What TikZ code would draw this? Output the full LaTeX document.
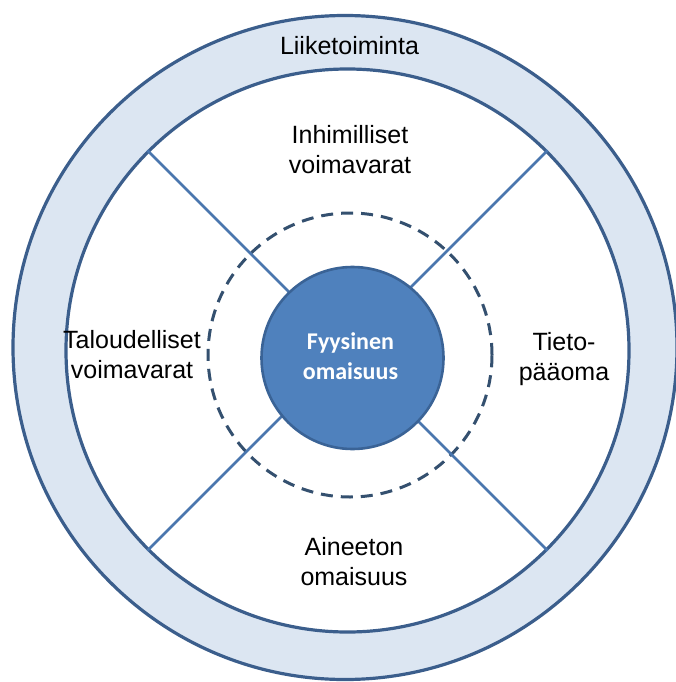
\documentclass[tikz,border=0pt]{standalone}
\usepackage{fontspec}
\setmainfont{Liberation Sans}
\newfontfamily\corefont{Carlito}
\begin{document}
\begin{tikzpicture}[x=1pt,y=-1pt,
  ringline/.style={draw=ringdark, line width=3.2pt},
  spoke/.style={draw=spokeblue, line width=2.7pt},
  lbl/.style={inner sep=0pt, align=center, anchor=base,
    font=\fontsize{25}{30}\selectfont, text=black},
  corelbl/.style={inner sep=0pt, align=center, anchor=base,
    font=\corefont\bfseries\fontsize{24}{30}\selectfont, text=white}]
\definecolor{ringfill}{HTML}{DCE6F2}
\definecolor{ringdark}{HTML}{3B5E8C}
\definecolor{spokeblue}{HTML}{4A76AE}
\definecolor{corefill}{HTML}{4F81BD}
\definecolor{coredark}{HTML}{3A6396}
\definecolor{dashdark}{HTML}{34506F}
\useasboundingbox (0,0) rectangle (676,682);
\fill[white] (0,0) rectangle (676,682);

% outer business ring and the white field inside it
\node[circle, inner sep=0pt, minimum size=664pt, fill=ringfill, ringline] (outer) at (345,347.5) {};
\node[circle, inner sep=0pt, minimum size=563pt, fill=white, ringline] (rim) at (347.5,350.5) {};
\coordinate (O) at (347.5,350.5);

% dashed middle circle
\node[circle, inner sep=0pt, minimum size=284pt, draw=dashdark, line width=3pt,
  dash pattern=on 12pt off 8pt] (mid) at (350,355) {};

% four dividing spokes
\draw[spoke] (O) -- (rim.45);
\draw[spoke] (O) -- (rim.135);
\draw[spoke] (O) -- (rim.225);
\draw[spoke] (O) -- (rim.315);

% central disc
\node[circle, inner sep=0pt, minimum size=182pt, fill=corefill, draw=coredark, line width=2.6pt] (core) at (352.5,358) {};

% labels (anchored at the baseline of their last line)
\node[lbl] (biz) at (349.5,55) {Liiketoiminta};
\node[lbl] (human) at (350,173) {Inhimilliset\\voimavarat};
\node[lbl] (finance) at (132,378) {Taloudelliset\\voimavarat};
\node[lbl] (knowledge) at (564,380) {Tieto-\\pääoma};
\node[lbl] (intangible) at (354,585) {Aineeton\\omaisuus};
\node[corelbl] (physical) at (350.5,379) {Fyysinen\\omaisuus};
\end{tikzpicture}
\end{document}
